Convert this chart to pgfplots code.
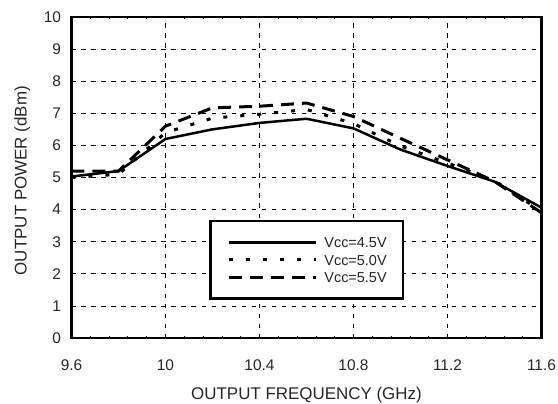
\documentclass[border=0pt]{standalone}
\usepackage{fontspec}
\setmainfont{Liberation Sans}
\usepackage{pgfplots}
\pgfplotsset{compat=1.18}

\begin{document}
\begin{tikzpicture}
\begin{axis}[
    scale only axis,
    width=470bp, height=321bp,
    xmin=9.6, xmax=11.6,
    ymin=0, ymax=10,
    xtick={9.6,10,10.4,10.8,11.2,11.6},
    xticklabels={9.6,10,10.4,10.8,11.2,11.6},
    ytick={0,1,2,3,4,5,6,7,8,9,10},
    yticklabels={0,1,2,3,4,5,6,7,8,9,10},
    minor x tick num=4,
    tick align=inside,
    major tick length=0pt,
    minor tick length=2.5bp,
    minor tick style={black, line width=0.8bp},
    grid=major,
    major grid style={black, line width=0.8bp, dash pattern=on 4.5bp off 5.5bp},
    axis line style={black, line width=2.8bp},
    /pgf/number format/assume math mode=true,
    tick label style={font=\fontsize{15.5}{18}\selectfont, text=black!85},
    xticklabel style={yshift=-18bp},
    yticklabel style={xshift=-7bp},
    xlabel={OUTPUT FREQUENCY (GHz)},
    ylabel={OUTPUT POWER (dBm)},
    label style={font=\fontsize{17}{20}\selectfont, text=black!85},
    xlabel style={at={(axis description cs:0.5,-0.193)}, anchor=base},
    ylabel style={at={(axis description cs:-0.0953,0.49)}, anchor=base},
    legend cell align=left,
    legend image code/.code={\draw[#1] (0bp,0bp) -- (87bp,0bp);},
    legend style={
        at={(axis description cs:0.2932,0.3676)}, anchor=north west,
        draw=black, line width=2.4bp, fill=white,
        inner xsep=16.5bp, inner ysep=16bp,
        row sep=6.8bp, column sep=7.4bp,
        font=\fontsize{14.5}{17}\selectfont, text=black!85,
        nodes={inner sep=0pt, text height=10.5bp, text depth=0bp},
    },
]
\addplot[black, line width=2.5bp, line join=round]
    coordinates {(9.6,5.03)(9.8,5.2)(10.0,6.2)(10.2,6.5)(10.4,6.7)(10.6,6.83)(10.8,6.53)(11.0,5.87)(11.2,5.36)(11.4,4.87)(11.6,4.06)};
\addlegendentry{Vcc=4.5V}
\addplot[black, line width=3bp, dash pattern=on 4bp off 13bp]
    coordinates {(9.6,5.0)(9.8,5.1)(10.0,6.4)(10.2,6.85)(10.4,6.97)(10.6,7.12)(10.8,6.68)(11.0,5.98)(11.2,5.45)(11.4,4.9)(11.6,3.95)};
\addlegendentry{Vcc=5.0V}
\addplot[black, line width=3bp, dash pattern=on 13bp off 8bp]
    coordinates {(9.6,5.2)(9.8,5.2)(10.0,6.6)(10.2,7.17)(10.4,7.22)(10.6,7.32)(10.8,6.9)(11.0,6.22)(11.2,5.55)(11.4,4.88)(11.6,3.9)};
\addlegendentry{Vcc=5.5V}
\end{axis}
\pgfresetboundingbox
\path[use as bounding box] ([shift={(-71.5bp,-66bp)}]current axis.south west) rectangle ([shift={(16.5bp,17bp)}]current axis.north east);
\end{tikzpicture}
\end{document}
